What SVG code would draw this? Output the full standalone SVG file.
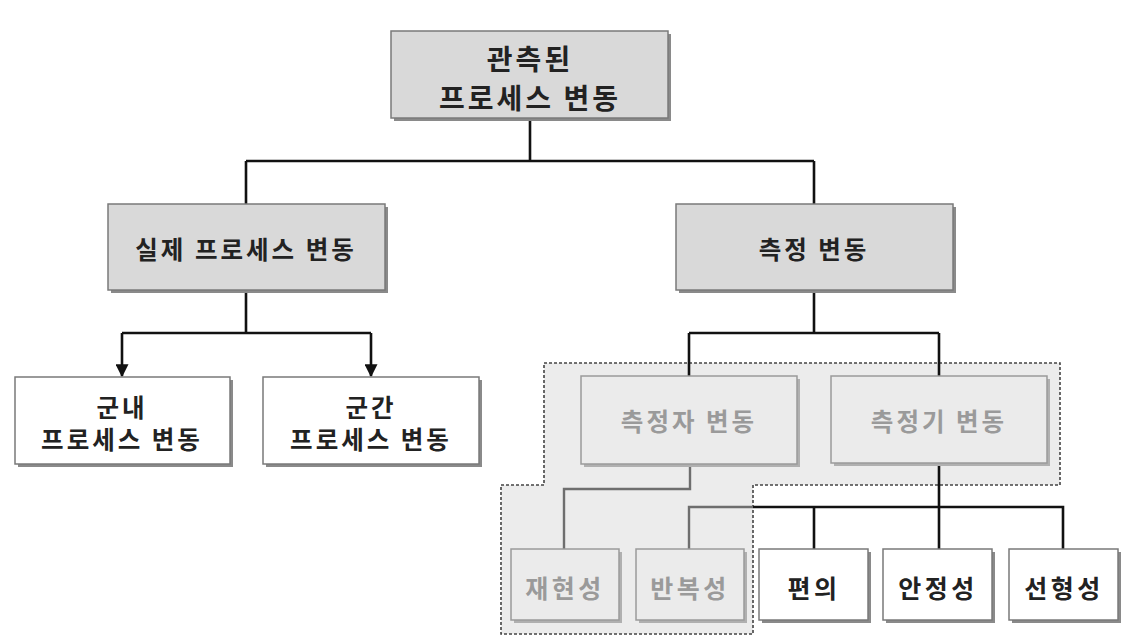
<svg xmlns="http://www.w3.org/2000/svg" width="1127" height="636" viewBox="0 0 1127 636">
<style>
text{font-family:"Noto Sans CJK KR","Noto Sans",sans-serif;font-weight:bold;text-anchor:middle;dominant-baseline:central;letter-spacing:3px}
.t{fill:#222;font-size:24.5px}
.tt{fill:#222;font-size:28px}
.tg{fill:#9a9a9a;font-size:24.5px}
.tb{font-size:25px;letter-spacing:3.5px}
.box{stroke:#7a7a7a;stroke-width:1.5}
.dark{fill:#d9d9d9}
.white{fill:#ffffff}
.light{fill:#ebebeb;stroke:#9a9a9a;stroke-width:1.5}
.sh{fill:#8a8a8a}
.shg{fill:#b0b0b0}
.c{fill:none;stroke:#111;stroke-width:2.6}
.cg{fill:none;stroke:#6e6e6e;stroke-width:2.4}
</style>
<defs>
<marker id="arr" viewBox="0 0 10 10" refX="9" refY="5" markerWidth="5" markerHeight="5" orient="auto">
<path d="M0,0 L10,5 L0,10 z" fill="#111"/>
</marker>
</defs>
<rect width="1127" height="636" fill="#ffffff"/>
<g id="group-area">
<path d="M544,363 H1060 V485 H753 V634 H501 V485 H544 Z" fill="#ececec" stroke="#444" stroke-width="1.6" stroke-dasharray="3,2"/>
</g>
<g id="connectors">
<path class="c" d="M530,118 V161 M246,161 H814 M246,161 V204 M814,161 V204"/>
<path class="c" d="M246,290 V333 M122,333 H371" />
<path class="c" d="M122,333 V376" marker-end="url(#arr)"/>
<path class="c" d="M371,333 V376" marker-end="url(#arr)"/>
<path class="c" d="M814,290 V333 M689,333 H939 M689,333 V376 M939,333 V376"/>
<path class="cg" d="M690,464 V489 H564 V549"/>
<path class="cg" d="M689,549 V507 H753"/>
<path class="c" d="M939,463 V507 M753,507 H1063 V549 M814,507 V549 M939,507 V549"/>
</g>
<g id="n-observed">
<rect class="sh" x="394" y="34" width="277" height="87"/>
<rect class="box dark" x="391" y="31" width="277" height="87"/>
<text class="tt" x="530" y="58">관측된</text>
<text class="tt" x="530" y="97">프로세스 변동</text>
</g>
<g id="n-actual">
<rect class="sh" x="111" y="207" width="277" height="86"/>
<rect class="box dark" x="108" y="204" width="277" height="86"/>
<text class="t" x="246" y="248">실제 프로세스 변동</text>
</g>
<g id="n-measure">
<rect class="sh" x="679" y="207" width="277" height="86"/>
<rect class="box dark" x="676" y="204" width="277" height="86"/>
<text class="t" x="814" y="248">측정 변동</text>
</g>
<g id="n-within">
<rect class="sh" x="18" y="380" width="215" height="87"/>
<rect class="box white" x="15" y="377" width="215" height="87"/>
<text class="t" x="122" y="406">군내</text>
<text class="t" x="122" y="438">프로세스 변동</text>
</g>
<g id="n-between">
<rect class="sh" x="266" y="380" width="216" height="87"/>
<rect class="box white" x="263" y="377" width="216" height="87"/>
<text class="t" x="371" y="406">군간</text>
<text class="t" x="371" y="438">프로세스 변동</text>
</g>
<g id="n-operator">
<rect class="shg" x="584" y="379" width="216" height="88"/>
<rect class="light" x="581" y="376" width="216" height="88"/>
<text class="tg" x="689" y="420">측정자 변동</text>
</g>
<g id="n-gauge">
<rect class="shg" x="834" y="379" width="216" height="87"/>
<rect class="light" x="831" y="376" width="216" height="87"/>
<text class="tg" x="939" y="420">측정기 변동</text>
</g>
<g id="n-reproducibility">
<rect class="shg" x="514" y="552" width="108" height="71"/>
<rect class="light" x="511" y="549" width="108" height="71"/>
<text class="tg tb" x="565" y="587">재현성</text>
</g>
<g id="n-repeatability">
<rect class="shg" x="639" y="552" width="108" height="71"/>
<rect class="light" x="636" y="549" width="108" height="71"/>
<text class="tg tb" x="690" y="587">반복성</text>
</g>
<g id="n-bias">
<rect class="sh" x="762" y="552" width="109" height="71"/>
<rect class="box white" x="759" y="549" width="109" height="71"/>
<text class="t tb" x="814" y="587">편의</text>
</g>
<g id="n-stability">
<rect class="sh" x="886" y="552" width="109" height="71"/>
<rect class="box white" x="883" y="549" width="109" height="71"/>
<text class="t tb" x="938" y="587">안정성</text>
</g>
<g id="n-linearity">
<rect class="sh" x="1012" y="552" width="109" height="71"/>
<rect class="box white" x="1009" y="549" width="109" height="71"/>
<text class="t tb" x="1064" y="587">선형성</text>
</g>
</svg>
